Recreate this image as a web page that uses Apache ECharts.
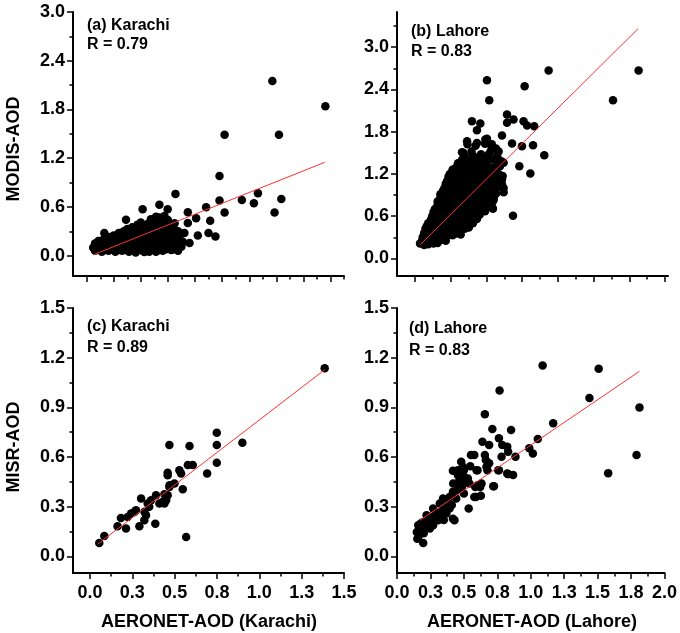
<!DOCTYPE html>
<html>
<head>
<meta charset="utf-8">
<script src="https://cdn.jsdelivr.net/npm/echarts@6/dist/echarts.min.js"></script>
<style>
html,body{margin:0;padding:0;background:#fff;}
#chart{width:680px;height:633px;}
</style>
</head>
<body>
<div id="chart"></div>
<script>
// ---------- DATA ----------
// (a) Karachi: AERONET-AOD vs MODIS-AOD
const karachiModis = [
[1.077,2.151],[1.39,1.84],[0.795,1.489],[1.116,1.489],[0.765,0.98],[0.765,0.679],[0.795,0.532],[0.897,0.687],
[0.992,0.769],[0.968,0.646],[1.09,0.532],[1.13,0.699],[0.505,0.761],[0.686,0.597],[0.578,0.536],[0.627,0.462],
[0.71,0.429],[0.70,0.278],[0.741,0.237],[0.637,0.249],[0.588,0.156],[0.528,0.114],[0.434,0.082],[0.321,0.045],
[0.459,0.573],[0.41,0.626],[0.311,0.573],[0.213,0.442],[0.085,0.278],[0.021,0.094],[0.558,0.278],[0.578,0.401],
[0.03,0.06],[0.07,0.05],[0.11,0.06],[0.15,0.05],[0.19,0.06],[0.23,0.05],[0.27,0.04],[0.31,0.06],[0.35,0.05],[0.39,0.05],[0.43,0.06],[0.48,0.07],[0.52,0.06],
[0.05,0.08],[0.09,0.07],[0.13,0.08],[0.17,0.07],[0.21,0.08],[0.25,0.07],[0.29,0.08],[0.33,0.07],[0.37,0.08],[0.41,0.07],[0.45,0.08],[0.5,0.08],
[0.02,0.1],[0.05,0.11],[0.09,0.09],[0.13,0.1],[0.17,0.11],[0.21,0.09],[0.25,0.1],[0.29,0.11],[0.33,0.09],[0.37,0.1],[0.41,0.11],[0.45,0.09],[0.5,0.1],[0.54,0.11],
[0.04,0.13],[0.08,0.12],[0.12,0.13],[0.16,0.12],[0.2,0.13],[0.24,0.12],[0.28,0.13],[0.32,0.12],[0.36,0.13],[0.4,0.12],[0.44,0.13],[0.48,0.12],[0.52,0.13],
[0.03,0.15],[0.06,0.16],[0.1,0.14],[0.14,0.15],[0.18,0.16],[0.22,0.14],[0.26,0.15],[0.3,0.16],[0.34,0.14],[0.38,0.15],[0.42,0.16],[0.46,0.14],[0.51,0.15],[0.55,0.17],
[0.05,0.18],[0.09,0.17],[0.13,0.18],[0.17,0.17],[0.21,0.18],[0.25,0.17],[0.29,0.18],[0.33,0.17],[0.37,0.18],[0.41,0.17],[0.45,0.18],[0.49,0.17],
[0.08,0.2],[0.12,0.21],[0.16,0.19],[0.2,0.2],[0.24,0.21],[0.28,0.19],[0.32,0.2],[0.36,0.21],[0.4,0.19],[0.44,0.2],[0.48,0.21],[0.53,0.2],
[0.11,0.23],[0.15,0.22],[0.19,0.23],[0.23,0.22],[0.27,0.23],[0.31,0.22],[0.35,0.23],[0.39,0.22],[0.43,0.23],[0.47,0.22],[0.51,0.23],
[0.14,0.25],[0.18,0.26],[0.22,0.24],[0.26,0.25],[0.3,0.26],[0.34,0.24],[0.38,0.25],[0.42,0.26],[0.46,0.24],[0.5,0.25],[0.54,0.27],
[0.17,0.28],[0.21,0.27],[0.25,0.28],[0.29,0.27],[0.33,0.28],[0.37,0.27],[0.41,0.28],[0.45,0.27],[0.49,0.28],
[0.2,0.3],[0.24,0.31],[0.28,0.29],[0.32,0.3],[0.36,0.31],[0.4,0.29],[0.44,0.3],[0.48,0.31],[0.52,0.3],
[0.22,0.33],[0.26,0.32],[0.3,0.33],[0.34,0.32],[0.38,0.33],[0.42,0.32],[0.46,0.33],[0.5,0.32],
[0.25,0.35],[0.29,0.36],[0.33,0.34],[0.37,0.35],[0.41,0.36],[0.45,0.34],[0.49,0.36],
[0.28,0.38],[0.32,0.37],[0.36,0.38],[0.4,0.37],[0.44,0.38],[0.48,0.37],
[0.3,0.41],[0.34,0.39],[0.38,0.4],[0.42,0.41],[0.46,0.39],[0.5,0.4],
[0.36,0.45],[0.41,0.47],[0.46,0.44],[0.39,0.48],[0.44,0.49]
];
// (b) Lahore: AERONET-AOD vs MODIS-AOD
const lahoreModis = [
[0.664,2.532],[0.681,2.248],[0.942,2.447],[1.119,2.67],[1.783,2.67],[1.594,2.248],[0.812,2.044],[0.86,1.973],
[0.934,1.949],[0.96,1.888],[1.013,1.878],[0.812,1.926],[0.553,1.949],[0.615,1.916],[0.59,1.82],[0.517,1.664],
[0.664,1.698],[0.775,1.745],[0.849,1.632],[0.922,1.593],[1.004,1.607],[1.087,1.465],[0.903,1.309],[0.984,1.205],
[0.856,0.607],[0.48,1.508],[0.787,1.357],[0.775,1.048],[0.787,0.939],[0.713,0.835],[0.708,0.707],
[0.59,1.64],[0.652,1.69],[0.70,1.62],[0.75,1.52],[0.553,1.38],[0.615,1.45],[0.676,1.475],[0.565,1.309],[0.639,1.333],
[0.713,1.404],[0.762,1.357],[0.725,1.237],[0.775,1.12],[0.762,1.048],[0.787,1.0],[0.713,0.86],[0.70,0.74],
[0.17,0.21],[0.2,0.19],[0.23,0.2],[0.27,0.21],[0.3,0.22],
[0.185,0.25],[0.215,0.24],[0.25,0.26],[0.28,0.25],[0.32,0.26],[0.36,0.25],
[0.19,0.3],[0.22,0.28],[0.25,0.31],[0.29,0.29],[0.33,0.3],[0.37,0.32],[0.41,0.33],
[0.2,0.36],[0.23,0.35],[0.27,0.37],[0.31,0.35],[0.35,0.36],[0.39,0.37],[0.43,0.35],[0.47,0.34],
[0.21,0.42],[0.24,0.39],[0.27,0.43],[0.31,0.4],[0.34,0.38],[0.38,0.41],[0.42,0.39],[0.46,0.38],[0.5,0.42],
[0.22,0.46],[0.26,0.47],[0.29,0.45],[0.33,0.46],[0.37,0.44],[0.41,0.46],[0.45,0.45],[0.49,0.46],[0.53,0.44],
[0.23,0.5],[0.26,0.52],[0.3,0.49],[0.33,0.51],[0.36,0.48],[0.4,0.5],[0.44,0.52],[0.48,0.49],[0.52,0.51],[0.56,0.5],
[0.25,0.55],[0.28,0.56],[0.31,0.54],[0.35,0.56],[0.39,0.55],[0.43,0.57],[0.47,0.54],[0.51,0.56],[0.55,0.55],[0.59,0.56],
[0.26,0.6],[0.29,0.62],[0.32,0.58],[0.35,0.61],[0.38,0.63],[0.42,0.6],[0.45,0.58],[0.49,0.62],[0.53,0.6],[0.57,0.59],[0.61,0.62],
[0.27,0.66],[0.3,0.65],[0.34,0.67],[0.37,0.65],[0.41,0.66],[0.45,0.64],[0.49,0.67],[0.53,0.65],[0.57,0.66],[0.61,0.65],[0.65,0.67],
[0.28,0.7],[0.31,0.72],[0.34,0.69],[0.37,0.71],[0.41,0.68],[0.44,0.72],[0.47,0.7],[0.51,0.69],[0.55,0.72],[0.59,0.7],[0.63,0.71],[0.67,0.73],
[0.3,0.76],[0.33,0.74],[0.36,0.76],[0.4,0.75],[0.44,0.77],[0.48,0.75],[0.52,0.74],[0.56,0.76],[0.6,0.75],[0.64,0.77],[0.68,0.76],
[0.3,0.81],[0.33,0.79],[0.36,0.82],[0.39,0.8],[0.43,0.78],[0.46,0.82],[0.5,0.8],[0.54,0.79],[0.58,0.83],[0.62,0.8],[0.66,0.78],[0.71,0.82],
[0.32,0.86],[0.35,0.84],[0.39,0.86],[0.43,0.85],[0.47,0.86],[0.51,0.84],[0.55,0.86],[0.59,0.85],[0.63,0.86],[0.67,0.84],[0.71,0.87],
[0.32,0.91],[0.35,0.89],[0.38,0.92],[0.42,0.9],[0.45,0.88],[0.49,0.91],[0.53,0.9],[0.57,0.92],[0.61,0.89],[0.65,0.91],[0.69,0.88],[0.73,0.92],
[0.34,0.96],[0.37,0.94],[0.4,0.96],[0.44,0.95],[0.48,0.96],[0.51,0.94],[0.55,0.96],[0.59,0.95],[0.63,0.97],[0.67,0.95],[0.72,0.96],
[0.35,1.0],[0.38,1.02],[0.42,0.99],[0.45,1.03],[0.49,1.0],[0.53,0.98],[0.57,1.02],[0.61,1.0],[0.65,1.03],[0.7,0.99],[0.74,1.01],
[0.36,1.06],[0.39,1.04],[0.43,1.06],[0.47,1.05],[0.51,1.04],[0.55,1.06],[0.59,1.05],[0.63,1.06],[0.67,1.05],[0.71,1.04],
[0.37,1.1],[0.41,1.12],[0.44,1.08],[0.48,1.11],[0.52,1.09],[0.56,1.12],[0.6,1.1],[0.64,1.08],[0.68,1.12],[0.72,1.1],[0.76,1.09],
[0.38,1.16],[0.42,1.15],[0.46,1.14],[0.5,1.16],[0.54,1.15],[0.58,1.14],[0.62,1.16],[0.66,1.15],[0.7,1.17],[0.74,1.15],
[0.39,1.2],[0.42,1.23],[0.46,1.19],[0.5,1.22],[0.54,1.2],[0.58,1.18],[0.62,1.22],[0.66,1.2],[0.7,1.24],[0.75,1.2],[0.78,1.17],
[0.41,1.26],[0.45,1.25],[0.49,1.27],[0.53,1.25],[0.57,1.26],[0.61,1.25],[0.65,1.26],[0.69,1.27],
[0.43,1.28],[0.47,1.31],[0.52,1.3],[0.57,1.33],[0.62,1.29],[0.67,1.32],[0.72,1.3],[0.76,1.31],
[0.45,1.35],[0.5,1.34],[0.55,1.36],[0.6,1.35],[0.65,1.35],
[0.48,1.4],[0.53,1.38],[0.6,1.42],[0.66,1.39],[0.72,1.41],[0.77,1.38],[0.74,1.45],
[0.5,1.45],[0.56,1.46],[0.66,1.44],
[0.49,1.5],[0.55,1.52],[0.62,1.48],[0.69,1.52],[0.73,1.56],
[0.52,1.62],[0.58,1.6],[0.65,1.63],[0.7,1.58]
];
// (c) Karachi: AERONET-AOD vs MISR-AOD
const karachiMisr = [
[0.055,0.081],[0.085,0.123],[0.163,0.182],[0.183,0.232],[0.213,0.168],[0.223,0.238],[0.243,0.259],[0.262,0.268],
[0.272,0.279],[0.292,0.182],[0.321,0.218],[0.331,0.248],[0.302,0.35],[0.341,0.319],[0.361,0.339],[0.39,0.37],
[0.386,0.198],[0.44,0.319],[0.45,0.339],[0.459,0.37],[0.469,0.42],[0.459,0.49],[0.459,0.505],[0.469,0.673],
[0.499,0.44],[0.528,0.521],[0.538,0.501],[0.548,0.406],[0.578,0.552],[0.607,0.552],[0.588,0.667],[0.568,0.117],
[0.692,0.501],[0.749,0.747],[0.749,0.673],[0.749,0.565],[0.9,0.687],[1.386,1.136],[0.41,0.32],[0.44,0.376],
[0.47,0.43],[0.322,0.27],[0.35,0.3],[0.43,0.33]
];
// (d) Lahore: AERONET-AOD vs MISR-AOD
const lahoreMisr = [
[1.089,1.153],[1.508,1.133],[1.439,0.956],[1.813,0.899],[1.791,0.612],[1.579,0.503],[1.168,0.804],[1.053,0.709],
[0.989,0.653],[1.016,0.622],[0.767,1.002],[0.657,0.859],[0.713,0.77],[0.853,0.764],[0.886,0.602],[0.762,0.713],
[0.787,0.673],[0.824,0.663],[0.831,0.632],[0.782,0.602],[0.831,0.497],[0.868,0.491],[0.757,0.521],[0.72,0.424],
[0.639,0.693],[0.689,0.673],[0.657,0.612],[0.664,0.582],[0.689,0.562],[0.676,0.521],[0.632,0.44],[0.627,0.366],
[0.553,0.612],[0.578,0.612],[0.595,0.521],[0.585,0.42],[0.578,0.359],[0.536,0.289],[0.48,0.571],[0.455,0.521],
[0.492,0.541],[0.548,0.545],[0.602,0.521],[0.418,0.517],[0.669,0.541],[0.762,0.521],[0.824,0.501],[0.467,0.461],
[0.504,0.465],[0.541,0.441],[0.602,0.43],[0.622,0.42],[0.725,0.424],[0.455,0.4],[0.487,0.424],[0.418,0.39],
[0.393,0.359],[0.443,0.35],[0.59,0.359],[0.344,0.35],[0.369,0.319],[0.32,0.319],[0.27,0.289],[0.295,0.268],
[0.344,0.279],[0.393,0.289],[0.418,0.228],[0.43,0.218],[0.332,0.248],[0.221,0.248],[0.246,0.218],[0.283,0.228],
[0.307,0.218],[0.196,0.208],[0.159,0.188],[0.172,0.168],[0.209,0.178],[0.246,0.168],[0.159,0.117],[0.196,0.081],
[0.148,0.147],[0.27,0.188],[0.369,0.259],[0.455,0.491],[0.492,0.491],[0.517,0.471],[0.152,0.107],
[0.38,0.33],[0.41,0.31],[0.36,0.29],[0.31,0.25],[0.26,0.24],[0.23,0.2],[0.35,0.22],[0.2,0.14],[0.18,0.2],
[0.42,0.44],[0.5,0.38],[0.46,0.42],[0.53,0.47],[0.5,0.52]
];
// Linear fits: [slope, intercept, xStart, xEnd]
const fitA = [0.833, -0.0055, 0.021, 1.386];
const fitB = [1.909, -0.133, 0.172, 1.779];
const fitC = [0.786, 0.038, 0.045, 1.386];
const fitD = [0.548, 0.124, 0.172, 1.813];
// Panel annotations
const panelTitles = ["(a) Karachi", "(b) Lahore", "(c) Karachi", "(d) Lahore"];
const panelR = ["R = 0.79", "R = 0.83", "R = 0.89", "R = 0.83"];
// Tick values and labels
const xTicksKarachi = [0, 0.25, 0.5, 0.75, 1.0, 1.25, 1.5];
const xMinorKarachi = [0.125, 0.375, 0.625, 0.875, 1.125, 1.375];
const xLabelsKarachi = ["0.0", "0.3", "0.5", "0.8", "1.0", "1.3", "1.5"];
const xTicksLahore = [0, 0.25, 0.5, 0.75, 1.0, 1.25, 1.5, 1.75, 2.0];
const xMinorLahore = [0.125, 0.375, 0.625, 0.875, 1.125, 1.375, 1.625, 1.875];
const xLabelsLahore = ["0.0", "0.3", "0.5", "0.8", "1.0", "1.3", "1.5", "1.8", "2.0"];
const xTicksTopA = [-0.019, 0.141, 0.301, 0.461, 0.621, 0.781, 0.941, 1.101, 1.261, 1.421];
const xMinorTopA = [0.061, 0.221, 0.381, 0.541, 0.701, 0.861, 1.021, 1.181, 1.341, 1.499];
const xTicksTopB = [0.133, 0.397, 0.660, 0.924, 1.187, 1.451, 1.715, 1.978];
const xMinorTopB = [0.265, 0.528, 0.792, 1.056, 1.319, 1.583, 1.846];
const yTicksModis = [0, 0.6, 1.2, 1.8, 2.4, 3.0];
const yLabelsModis = ["0.0", "0.6", "1.2", "1.8", "2.4", "3.0"];
const yMinorModisA = [0.3, 0.9, 1.5, 2.1, 2.7];
const yMinorModisB = [0.3, 0.9, 1.5, 2.1, 2.7, 3.3];
const yTicksMisr = [0, 0.3, 0.6, 0.9, 1.2, 1.5];
const yLabelsMisr = ["0.0", "0.3", "0.6", "0.9", "1.2", "1.5"];
const yMinorMisr = [0.15, 0.45, 0.75, 1.05, 1.35];

// ---------- CHART ----------
const FONT = '"Liberation Sans", Arial, sans-serif';
const chart = echarts.init(document.getElementById('chart'), null, {renderer: 'canvas'});

const grids = [
  {left: 73, top: 12, width: 271, height: 264},
  {left: 397, top: 12, width: 271, height: 264},
  {left: 73, top: 308, width: 271, height: 265},
  {left: 397, top: 308, width: 271, height: 265}
];

function lookupFormatter(ticks, labels) {
  return function (v) {
    let best = 0, bd = Infinity;
    for (let i = 0; i < ticks.length; i++) {
      const d = Math.abs(ticks[i] - v);
      if (d < bd) { bd = d; best = i; }
    }
    return labels[best];
  };
}

const xAxes = [], yAxes = [];
function addAxes(g, xr, yr, xMaj, xMin, xLab, yMaj, yMin, yLab) {
  const base = {type: 'value', gridIndex: g, splitLine: {show: false}};
  const xi = xAxes.length;
  xAxes.push(Object.assign({}, base, {
    min: xr[0], max: xr[1], position: 'bottom',
    axisLine: {show: true, onZero: false, lineStyle: {color: '#000', width: 2}},
    axisTick: {show: true, customValues: xMaj, length: 6, lineStyle: {color: '#000', width: 1.5}},
    axisLabel: xLab ? {show: true, customValues: xMaj, formatter: lookupFormatter(xMaj, xLab),
      color: '#000', fontFamily: FONT, fontWeight: 'bold', fontSize: 18, margin: 11} : {show: false}
  }));
  xAxes.push(Object.assign({}, base, {
    min: xr[0], max: xr[1], position: 'bottom',
    axisLine: {show: false, onZero: false},
    axisTick: {show: true, customValues: xMin, length: 3.5, lineStyle: {color: '#000', width: 1.5}},
    axisLabel: {show: false}
  }));
  const yi = yAxes.length;
  yAxes.push(Object.assign({}, base, {
    min: yr[0], max: yr[1], position: 'left',
    axisLine: {show: true, onZero: false, lineStyle: {color: '#000', width: 2}},
    axisTick: {show: true, customValues: yMaj, length: 6, lineStyle: {color: '#000', width: 1.5}},
    axisLabel: {show: true, customValues: yMaj, formatter: lookupFormatter(yMaj, yLab),
      color: '#000', fontFamily: FONT, fontWeight: 'bold', fontSize: 18, margin: 8}
  }));
  yAxes.push(Object.assign({}, base, {
    min: yr[0], max: yr[1], position: 'left',
    axisLine: {show: false, onZero: false},
    axisTick: {show: true, customValues: yMin, length: 3.5, lineStyle: {color: '#000', width: 1.5}},
    axisLabel: {show: false}
  }));
  return [xi, yi];
}

const axA = addAxes(0, [-0.1, 1.5], [-0.25, 3.0], xTicksTopA, xMinorTopA, null, yTicksModis, yMinorModisA, yLabelsModis);
const axB = addAxes(1, [0, 2.0], [-0.25, 3.5], xTicksTopB, xMinorTopB, null, yTicksModis, yMinorModisB, yLabelsModis);
const axC = addAxes(2, [-0.1, 1.5], [-0.1, 1.5], xTicksKarachi, xMinorKarachi, xLabelsKarachi, yTicksMisr, yMinorMisr, yLabelsMisr);
const axD = addAxes(3, [0, 2.0], [-0.1, 1.5], xTicksLahore, xMinorLahore, xLabelsLahore, yTicksMisr, yMinorMisr, yLabelsMisr);

function scatter(ax, data) {
  return {type: 'scatter', xAxisIndex: ax[0], yAxisIndex: ax[1], data: data,
    symbol: 'circle', symbolSize: 8.5, itemStyle: {color: '#000', opacity: 1}, z: 2, silent: true};
}
function fitLine(ax, f) {
  return {type: 'line', xAxisIndex: ax[0], yAxisIndex: ax[1],
    data: [[f[2], f[0] * f[2] + f[1]], [f[3], f[0] * f[3] + f[1]]],
    symbol: 'none', lineStyle: {color: '#ff3030', width: 1}, z: 5, silent: true, animation: false};
}

const textStyle = (t, x, y) => ({type: 'text', x: x, y: y, silent: true,
  style: {text: t, fill: '#000', font: 'bold 16px ' + FONT, textAlign: 'left', textVerticalAlign: 'middle'}});
const titleStyle = (t, x, y, rot) => ({type: 'text', x: x, y: y, rotation: rot, silent: true,
  style: {text: t, fill: '#000', font: 'bold 18px ' + FONT, textAlign: 'center', textVerticalAlign: 'middle'}});

chart.setOption({
  animation: false,
  backgroundColor: '#fff',
  grid: grids,
  xAxis: xAxes,
  yAxis: yAxes,
  series: [
    scatter(axA, karachiModis), fitLine(axA, fitA),
    scatter(axB, lahoreModis), fitLine(axB, fitB),
    scatter(axC, karachiMisr), fitLine(axC, fitC),
    scatter(axD, lahoreMisr), fitLine(axD, fitD)
  ],
  graphic: [
    textStyle(panelTitles[0], 87, 26), textStyle(panelR[0], 87, 45),
    textStyle(panelTitles[1], 411, 32), textStyle(panelR[1], 411, 52),
    textStyle(panelTitles[2], 87, 327), textStyle(panelR[2], 87, 348),
    textStyle(panelTitles[3], 409, 329), textStyle(panelR[3], 409, 351),
    titleStyle('MODIS-AOD', 14, 149, Math.PI / 2),
    titleStyle('MISR-AOD', 14, 447, Math.PI / 2),
    titleStyle('AERONET-AOD (Karachi)', 209, 622, 0),
    titleStyle('AERONET-AOD (Lahore)', 532, 622, 0)
  ]
});
</script>
</body>
</html>
